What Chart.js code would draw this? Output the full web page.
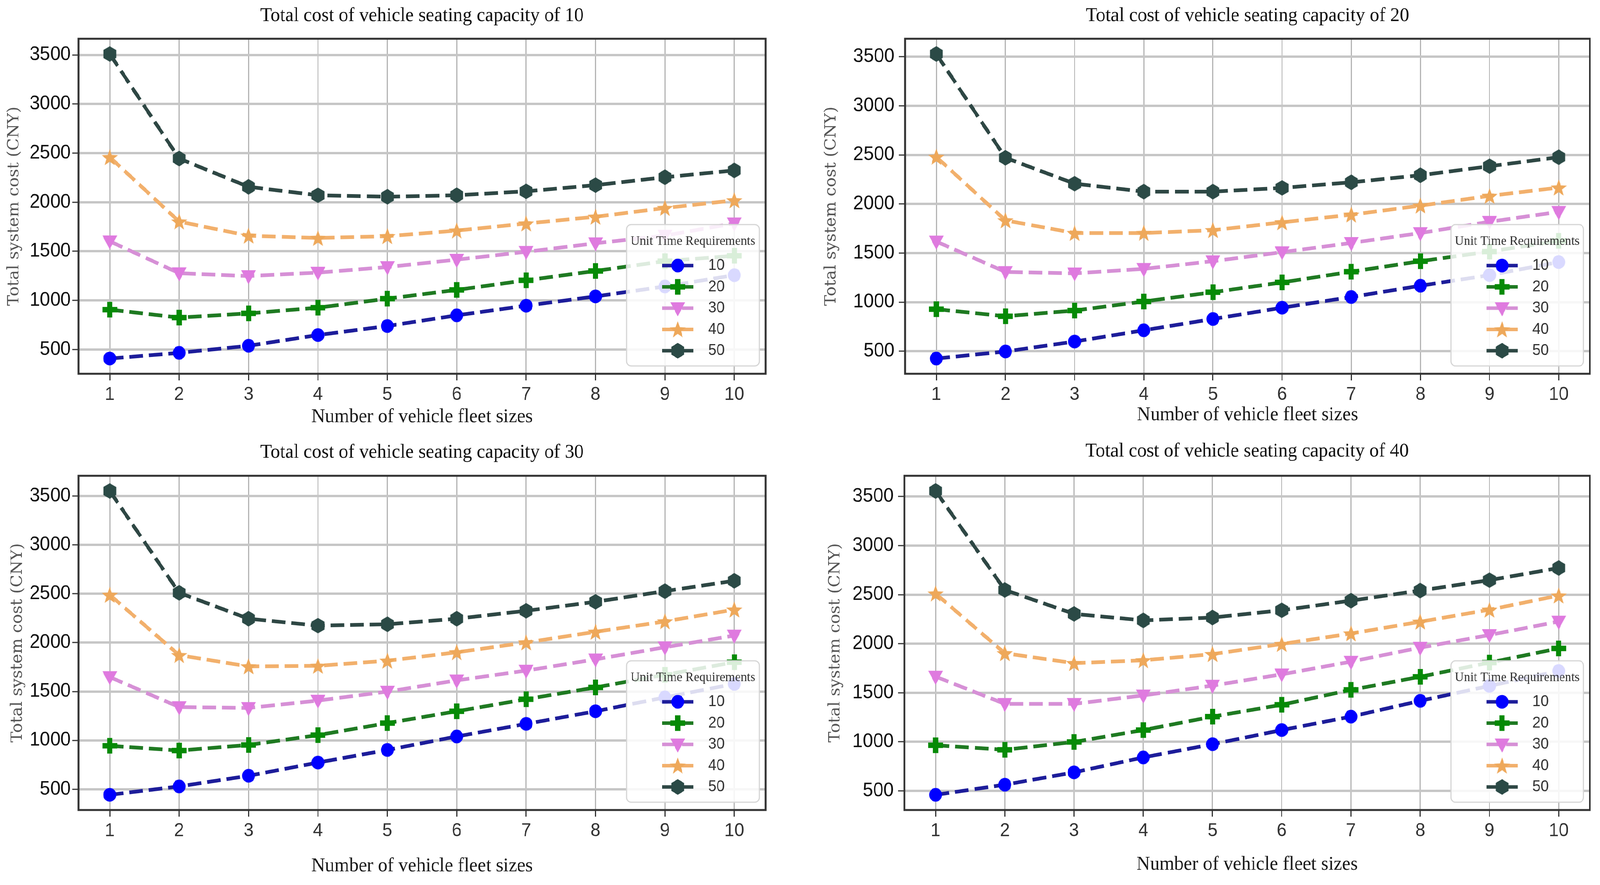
<!DOCTYPE html>
<html>
<head>
<meta charset="utf-8">
<script src="https://cdn.jsdelivr.net/npm/chart.js@4.4.1/dist/chart.umd.min.js"></script>
<style>
  html, body { margin: 0; padding: 0; background: #fff; overflow: hidden; }
  #stage { position: absolute; left: 0; top: 0; width: 4320px; height: 2266px; transform-origin: 0 0; }
  #stage canvas { position: absolute; }
</style>
</head>
<body>
<div id="stage"></div>
<script>
const fleetSizes = [1, 2, 3, 4, 5, 6, 7, 8, 9, 10];
const yTickValues = [500, 1000, 1500, 2000, 2500, 3000, 3500];
const requirementLabels = ["10", "20", "30", "40", "50"];
const panelTitles = [
  "Total cost of vehicle seating capacity of 10",
  "Total cost of vehicle seating capacity of 20",
  "Total cost of vehicle seating capacity of 30",
  "Total cost of vehicle seating capacity of 40"
];

// seating capacity 10
const cap10Req10 = [408, 466, 538, 647, 739, 848, 946, 1041, 1142, 1257];
const cap10Req20 = [906, 825, 868, 926, 1018, 1107, 1205, 1300, 1400, 1455];
const cap10Req30 = [1602, 1277, 1248, 1283, 1340, 1415, 1495, 1582, 1660, 1785];
const cap10Req40 = [2459, 1803, 1659, 1636, 1654, 1711, 1783, 1852, 1941, 2019];
const cap10Req50 = [3510, 2445, 2157, 2071, 2056, 2071, 2111, 2174, 2255, 2324];
// seating capacity 20
const cap20Req10 = [425, 497, 598, 713, 828, 943, 1052, 1167, 1275, 1408];
const cap20Req20 = [928, 856, 914, 1006, 1101, 1201, 1310, 1417, 1515, 1625];
const cap20Req30 = [1618, 1307, 1293, 1339, 1417, 1509, 1603, 1704, 1819, 1920];
const cap20Req40 = [2480, 1833, 1704, 1704, 1733, 1813, 1891, 1983, 2083, 2167];
const cap20Req50 = [3529, 2471, 2207, 2126, 2126, 2164, 2221, 2293, 2385, 2477];
// seating capacity 30
const cap30Req10 = [443, 529, 638, 773, 902, 1040, 1169, 1298, 1440, 1578];
const cap30Req20 = [945, 896, 953, 1054, 1177, 1298, 1421, 1542, 1671, 1800];
const cap30Req30 = [1648, 1341, 1332, 1407, 1499, 1614, 1714, 1829, 1953, 2073];
const cap30Req40 = [2489, 1872, 1757, 1763, 1815, 1901, 2002, 2111, 2217, 2338];
const cap30Req50 = [3552, 2510, 2245, 2174, 2188, 2245, 2326, 2418, 2527, 2633];
// seating capacity 40
const cap40Req10 = [460, 563, 689, 841, 976, 1120, 1257, 1418, 1570, 1722];
const cap40Req20 = [965, 919, 999, 1120, 1257, 1378, 1530, 1663, 1808, 1952];
const cap40Req30 = [1665, 1387, 1387, 1473, 1573, 1688, 1817, 1960, 2089, 2226];
const cap40Req40 = [2511, 1903, 1802, 1831, 1894, 1997, 2104, 2224, 2347, 2491];
const cap40Req50 = [3557, 2548, 2304, 2238, 2267, 2341, 2439, 2542, 2648, 2772];

const serifFont = "'Liberation Serif', 'Times New Roman', serif";
const tickFont = "'Liberation Sans Narrow', 'Arial Narrow', 'Liberation Sans', sans-serif";

// line colour, marker colour, marker shape for each requirement level
const seriesLook = [
  { line: "#1d1d9a", face: "#0000ff", shape: "circle" },
  { line: "#1f7a22", face: "#068a06", shape: "plus" },
  { line: "#d690d6", face: "#df7adf", shape: "tri" },
  { line: "#f2b06c", face: "#eea85a", shape: "star" },
  { line: "#2e4744", face: "#2b4a46", shape: "hex" }
];

// the layout is drawn on a 4320 x 2266 stage, stretched onto the real viewport
const stage = document.getElementById("stage");
const sx = window.innerWidth / 4320, sy = window.innerHeight / 2266;
stage.style.transform = "scale(" + sx + "," + sy + ")";

function makeMarker(shape, color) {
  const c = document.createElement("canvas");
  c.width = 52; c.height = 52;
  const g = c.getContext("2d");
  g.fillStyle = color;
  g.beginPath();
  if (shape === "circle") {
    g.arc(26, 26, 17.5, 0, Math.PI * 2);
  } else if (shape === "plus") {
    const a = 20, t = 7;
    g.moveTo(26 - t, 26 - a); g.lineTo(26 + t, 26 - a); g.lineTo(26 + t, 26 - t);
    g.lineTo(26 + a, 26 - t); g.lineTo(26 + a, 26 + t); g.lineTo(26 + t, 26 + t);
    g.lineTo(26 + t, 26 + a); g.lineTo(26 - t, 26 + a); g.lineTo(26 - t, 26 + t);
    g.lineTo(26 - a, 26 + t); g.lineTo(26 - a, 26 - t); g.lineTo(26 - t, 26 - t);
  } else if (shape === "tri") {
    g.moveTo(26 - 20, 26 - 15); g.lineTo(26 + 20, 26 - 15); g.lineTo(26, 26 + 21);
  } else if (shape === "star") {
    for (let k = 0; k < 10; k++) {
      const r = k % 2 === 0 ? 23 : 9.5;
      const ang = -Math.PI / 2 + k * Math.PI / 5;
      const px = 26 + r * Math.cos(ang), py = 28 + r * Math.sin(ang);
      if (k === 0) g.moveTo(px, py); else g.lineTo(px, py);
    }
  } else if (shape === "hex") {
    for (let k = 0; k < 6; k++) {
      const ang = -Math.PI / 2 + k * Math.PI / 3;
      const px = 26 + 20 * Math.cos(ang), py = 26 + 20 * Math.sin(ang);
      if (k === 0) g.moveTo(px, py); else g.lineTo(px, py);
    }
  }
  g.closePath();
  g.fill();
  return c;
}

const markerImages = seriesLook.map(s => makeMarker(s.shape, s.face));

const framePlugin = {
  id: "axesFrame",
  afterDatasetsDraw(chart) {
    const { ctx, chartArea: a } = chart;
    ctx.save();
    ctx.strokeStyle = "#333";
    ctx.lineWidth = 5;
    ctx.strokeRect(a.left, a.top, a.right - a.left, a.bottom - a.top);
    ctx.restore();
  }
};

const boxLegendPlugin = {
  id: "boxLegend",
  afterDatasetsDraw(chart) {
    const { ctx, chartArea: a } = chart;
    const w = 358, h = 362;
    const x0 = a.right - 17 - w, y0 = a.bottom - 20 - h;
    ctx.save();
    ctx.beginPath();
    ctx.roundRect(x0, y0, w, h, 12);
    ctx.fillStyle = "rgba(255,255,255,0.85)";
    ctx.fill();
    ctx.strokeStyle = "#d6d6d6";
    ctx.lineWidth = 3;
    ctx.stroke();

    ctx.fillStyle = "#333";
    ctx.font = "34px " + serifFont;
    ctx.textAlign = "center";
    ctx.textBaseline = "middle";
    ctx.fillText("Unit Time Requirements", x0 + w / 2, y0 + 43);

    chart.data.datasets.forEach((ds, i) => {
      const y = y0 + 105 + i * 54.5;
      ctx.strokeStyle = ds.borderColor;
      ctx.lineWidth = 9;
      ctx.setLineDash([37, 16]);
      ctx.beginPath();
      ctx.moveTo(x0 + 96, y);
      ctx.lineTo(x0 + 180, y);
      ctx.stroke();
      ctx.setLineDash([]);
      ctx.drawImage(markerImages[i], x0 + 138 - 26, y - 26);
      ctx.fillStyle = "#333";
      ctx.font = "40px " + tickFont;
      ctx.textAlign = "left";
      ctx.fillText(ds.label, x0 + 220, y);
    });
    ctx.restore();
  }
};

const panels = [
  { title: panelTitles[0], series: [cap10Req10, cap10Req20, cap10Req30, cap10Req40, cap10Req50],
    left: 0, top: 0, width: 2160, height: 1133, plotLeft: 212, padRight: 93,
    titlePad: { top: 10, bottom: 28 }, xAxisHeight: 176, xTitlePad: 35, yTitlePad: 14, yTickPad: 4 },
  { title: panelTitles[1], series: [cap20Req10, cap20Req20, cap20Req30, cap20Req40, cap20Req50],
    left: 2160, top: 0, width: 2160, height: 1133, plotLeft: 284, padRight: 21,
    titlePad: { top: 10, bottom: 28 }, xAxisHeight: 176, xTitlePad: 40, yTitlePad: 60, yTickPad: 12 },
  { title: panelTitles[2], series: [cap30Req10, cap30Req20, cap30Req30, cap30Req40, cap30Req50],
    left: 0, top: 1100, width: 2160, height: 1166, plotLeft: 212, padRight: 93,
    titlePad: { top: 28, bottom: 29 }, xAxisHeight: 192, xTitlePad: 18, yTitlePad: 23, yTickPad: 4 },
  { title: panelTitles[3], series: [cap40Req10, cap40Req20, cap40Req30, cap40Req40, cap40Req50],
    left: 2160, top: 1100, width: 2160, height: 1166, plotLeft: 282, padRight: 20,
    titlePad: { top: 25, bottom: 32 }, xAxisHeight: 192, xTitlePad: 22, yTitlePad: 71, yTickPad: 12 }
];

panels.forEach(p => {
  const canvas = document.createElement("canvas");
  canvas.style.left = p.left + "px";
  canvas.style.top = p.top + "px";
  canvas.style.width = p.width + "px";
  canvas.style.height = p.height + "px";
  canvas.width = p.width;
  canvas.height = p.height;
  stage.appendChild(canvas);

  // matplotlib-style 5% margins around the data
  const all = p.series.flat();
  const yLo = Math.min(...all), yHi = Math.max(...all);
  const xLo = Math.min(...fleetSizes), xHi = Math.max(...fleetSizes);

  const datasets = p.series.map((vals, i) => ({
    label: requirementLabels[i],
    data: fleetSizes.map((x, k) => ({ x: x, y: vals[k] })),
    borderColor: seriesLook[i].line,
    backgroundColor: seriesLook[i].face,
    borderWidth: 9.5,
    borderDash: [37, 16],
    pointStyle: markerImages[i],
    pointRadius: 18,
    tension: 0,
    order: -i
  }));

  new Chart(canvas, {
    type: "line",
    data: { datasets: datasets },
    plugins: [framePlugin, boxLegendPlugin],
    options: {
      responsive: false,
      animation: false,
      devicePixelRatio: 1,
      layout: { padding: { left: 0, top: 0, right: p.padRight, bottom: 0 } },
      plugins: {
        legend: { display: false },
        tooltip: { enabled: false },
        title: {
          display: true, text: p.title, fullSize: false, color: "#111",
          font: { family: serifFont, size: 51, weight: "normal" },
          padding: p.titlePad
        }
      },
      scales: {
        x: {
          type: "linear",
          min: xLo - 0.05 * (xHi - xLo),
          max: xHi + 0.05 * (xHi - xLo),
          afterBuildTicks: s => { s.ticks = fleetSizes.map(v => ({ value: v })); },
          afterFit: s => { s.height = p.xAxisHeight; },
          grid: { color: "#b4b4b4", lineWidth: 3, tickLength: 17, tickColor: "#333", tickWidth: 3 },
          border: { display: false },
          ticks: { color: "#333", font: { family: tickFont, size: 48 }, padding: 8,
                   maxRotation: 0, autoSkip: false, callback: v => String(v) },
          title: { display: true, text: "Number of vehicle fleet sizes", color: "#1a1a1a",
                   font: { family: serifFont, size: 51 }, padding: { top: 0, bottom: p.xTitlePad } }
        },
        y: {
          type: "linear",
          min: yLo - 0.05 * (yHi - yLo),
          max: yHi + 0.05 * (yHi - yLo),
          afterBuildTicks: s => { s.ticks = yTickValues.map(v => ({ value: v })); },
          afterFit: s => { s.width = p.plotLeft; },
          grid: { color: "#c6c6c6", lineWidth: 6, tickLength: 17, tickColor: "#333", tickWidth: 3 },
          border: { display: false },
          ticks: { color: "#111", font: { family: tickFont, size: 50 }, padding: p.yTickPad,
                   autoSkip: false, callback: v => String(v) },
          title: { display: true, text: "Total system cost (CNY)", color: "#555",
                   font: { family: "'DejaVu Serif', serif", size: 42 }, padding: { top: p.yTitlePad, bottom: 0 } }
        }
      }
    }
  });
});
</script>
</body>
</html>
